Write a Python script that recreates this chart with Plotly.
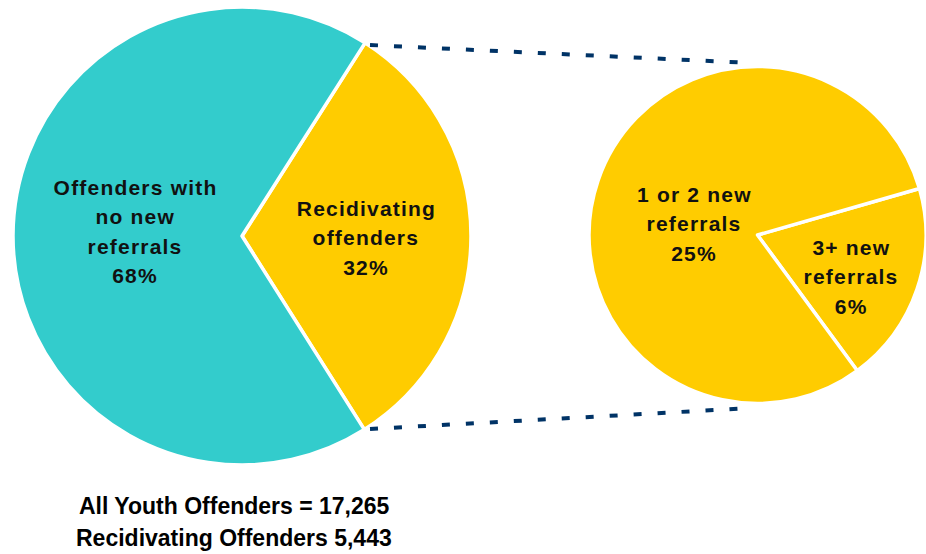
import plotly.graph_objects as go

W, H = 926, 554

# Data
main_labels = ["Recidivating offenders", "Offenders with no new referrals"]
main_values = [32, 68]
main_colors = ["#FFCC00", "#33CCCC"]

sub_labels = ["3+ new referrals", "1 or 2 new referrals"]
sub_values = [6, 25]
sub_colors = ["#FFCC00", "#FFCC00"]

all_youth = "17,265"
recid_total = "5,443"

def px(x):
    return x / W

def py(y):
    return 1 - y / H

fig = go.Figure()

fig.add_trace(go.Pie(
    labels=main_labels, values=main_values, sort=False, direction="clockwise",
    rotation=32.5, marker=dict(colors=main_colors, line=dict(color="white", width=3.5)),
    textinfo="none", hoverinfo="label+percent", showlegend=False,
    domain=dict(x=[px(13), px(471)], y=[py(465), py(7)]),
))

fig.add_trace(go.Pie(
    labels=sub_labels, values=sub_values, sort=False, direction="clockwise",
    rotation=74, marker=dict(colors=sub_colors, line=dict(color="white", width=3.5)),
    textinfo="none", hoverinfo="label+percent", showlegend=False,
    domain=dict(x=[px(589), 1.0], y=[py(405), py(65)]),
))

font = dict(family="Liberation Sans, Arial, sans-serif", size=21, color="#111111", weight="bold")

labels_text = [
    (["Offenders with", "no new", "referrals", "%d%%" % main_values[1]], 135, 187),
    (["Recidivating", "offenders", "%d%%" % main_values[0]], 366, 208),
    (["1 or 2 new", "referrals", "%d%%" % sub_values[1]], 694, 194),
    (["3+ new", "referrals", "%d%%" % sub_values[0]], 851, 247),
]
LS = 29.5
n_label_lines = 0
for lines, x, y0 in labels_text:
    for i, t in enumerate(lines):
        fig.add_annotation(text=t, x=px(x), y=py(y0 + i * LS), xref="paper", yref="paper",
                           showarrow=False, font=font, xanchor="center", yanchor="middle")
        n_label_lines += 1

foot_font = dict(family="Liberation Sans, Arial, sans-serif", size=23, color="#000000", weight="bold")
fig.add_annotation(text="All Youth Offenders = " + all_youth, x=px(234), y=py(506),
                   xref="paper", yref="paper", showarrow=False, font=foot_font,
                   xanchor="center", yanchor="middle")
fig.add_annotation(text="Recidivating Offenders " + recid_total, x=px(234), y=py(538),
                   xref="paper", yref="paper", showarrow=False, font=foot_font,
                   xanchor="center", yanchor="middle")

dash_line = dict(color="#003366", width=4, dash="8px,16px")
fig.add_shape(type="line", xref="paper", yref="paper",
              x0=px(370), y0=py(45), x1=px(752), y1=py(63), line=dash_line)
fig.add_shape(type="line", xref="paper", yref="paper",
              x0=px(370), y0=py(429), x1=px(752), y1=py(408), line=dash_line)

fig.update_layout(width=W, height=H, margin=dict(l=0, r=0, t=0, b=0),
                  paper_bgcolor="white", plot_bgcolor="white")

post = (
    "document.body.style.margin='0';document.body.style.overflow='hidden';"
    "var t=document.querySelectorAll('text.annotation-text');"
    "for(var i=0;i<Math.min(%d,t.length);i++){t[i].style.letterSpacing='1.2px';}" % n_label_lines
)
fig.write_html("out.html", post_script=post, config={"displayModeBar": False})
